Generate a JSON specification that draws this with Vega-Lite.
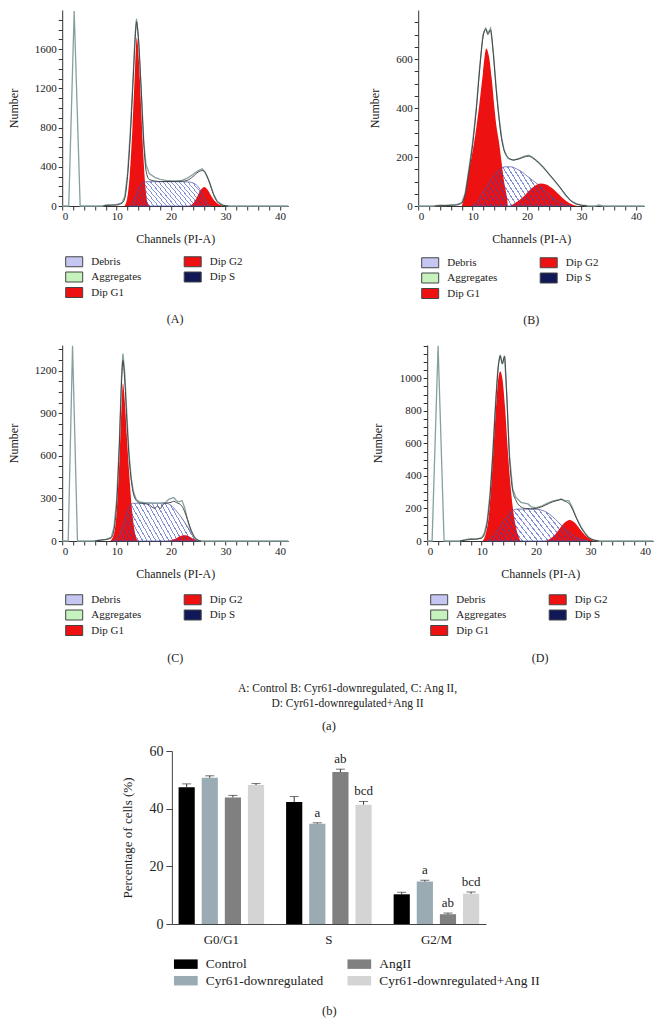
{
"$schema": "https://vega.github.io/schema/vega-lite/v6.json",
"background": "white",
"padding": {"left": 7, "top": 8, "right": 5, "bottom": 5},
"config": {
 "font": "Liberation Serif",
 "view": {"stroke": null},
 "axis": {"labelFont": "Liberation Serif", "titleFont": "Liberation Serif", "labelFontSize": 11, "titleFontSize": 12, "titleFontWeight": "normal", "labelColor": "#222", "titleColor": "#222", "domainColor": "#333", "tickColor": "#333", "tickSize": 4, "labelPadding": 2, "grid": false, "labelOverlap": false},
 "legend": {"labelFont": "Liberation Serif", "labelColor": "#222", "labelLimit": 400},
 "title": {"font": "Liberation Serif", "fontWeight": "normal", "fontSize": 12, "color": "#222", "subtitleFont": "Liberation Serif"},
 "area": {"color": {"gradient": "linear", "x1": -0.1, "y1": 0.65, "x2": 1.1, "y2": 0.35, "stops": [
  {"offset":0,"color":"rgba(50,70,190,0.6)"},{"offset":0.01,"color":"rgba(50,70,190,0.6)"},{"offset":0.01,"color":"rgba(255,255,255,0)"},{"offset":0.04,"color":"rgba(255,255,255,0)"},
  {"offset":0.04,"color":"rgba(50,70,190,0.6)"},{"offset":0.05,"color":"rgba(50,70,190,0.6)"},{"offset":0.05,"color":"rgba(255,255,255,0)"},{"offset":0.08,"color":"rgba(255,255,255,0)"},
  {"offset":0.08,"color":"rgba(50,70,190,0.6)"},{"offset":0.09,"color":"rgba(50,70,190,0.6)"},{"offset":0.09,"color":"rgba(255,255,255,0)"},{"offset":0.12,"color":"rgba(255,255,255,0)"},
  {"offset":0.12,"color":"rgba(50,70,190,0.6)"},{"offset":0.13,"color":"rgba(50,70,190,0.6)"},{"offset":0.13,"color":"rgba(255,255,255,0)"},{"offset":0.16,"color":"rgba(255,255,255,0)"},
  {"offset":0.16,"color":"rgba(50,70,190,0.6)"},{"offset":0.17,"color":"rgba(50,70,190,0.6)"},{"offset":0.17,"color":"rgba(255,255,255,0)"},{"offset":0.2,"color":"rgba(255,255,255,0)"},
  {"offset":0.2,"color":"rgba(50,70,190,0.6)"},{"offset":0.21,"color":"rgba(50,70,190,0.6)"},{"offset":0.21,"color":"rgba(255,255,255,0)"},{"offset":0.24,"color":"rgba(255,255,255,0)"},
  {"offset":0.24,"color":"rgba(50,70,190,0.6)"},{"offset":0.25,"color":"rgba(50,70,190,0.6)"},{"offset":0.25,"color":"rgba(255,255,255,0)"},{"offset":0.28,"color":"rgba(255,255,255,0)"},
  {"offset":0.28,"color":"rgba(50,70,190,0.6)"},{"offset":0.29,"color":"rgba(50,70,190,0.6)"},{"offset":0.29,"color":"rgba(255,255,255,0)"},{"offset":0.32,"color":"rgba(255,255,255,0)"},
  {"offset":0.32,"color":"rgba(50,70,190,0.6)"},{"offset":0.33,"color":"rgba(50,70,190,0.6)"},{"offset":0.33,"color":"rgba(255,255,255,0)"},{"offset":0.36,"color":"rgba(255,255,255,0)"},
  {"offset":0.36,"color":"rgba(50,70,190,0.6)"},{"offset":0.37,"color":"rgba(50,70,190,0.6)"},{"offset":0.37,"color":"rgba(255,255,255,0)"},{"offset":0.4,"color":"rgba(255,255,255,0)"},
  {"offset":0.4,"color":"rgba(50,70,190,0.6)"},{"offset":0.41,"color":"rgba(50,70,190,0.6)"},{"offset":0.41,"color":"rgba(255,255,255,0)"},{"offset":0.44,"color":"rgba(255,255,255,0)"},
  {"offset":0.44,"color":"rgba(50,70,190,0.6)"},{"offset":0.45,"color":"rgba(50,70,190,0.6)"},{"offset":0.45,"color":"rgba(255,255,255,0)"},{"offset":0.48,"color":"rgba(255,255,255,0)"},
  {"offset":0.48,"color":"rgba(50,70,190,0.6)"},{"offset":0.49,"color":"rgba(50,70,190,0.6)"},{"offset":0.49,"color":"rgba(255,255,255,0)"},{"offset":0.52,"color":"rgba(255,255,255,0)"},
  {"offset":0.52,"color":"rgba(50,70,190,0.6)"},{"offset":0.53,"color":"rgba(50,70,190,0.6)"},{"offset":0.53,"color":"rgba(255,255,255,0)"},{"offset":0.56,"color":"rgba(255,255,255,0)"},
  {"offset":0.56,"color":"rgba(50,70,190,0.6)"},{"offset":0.57,"color":"rgba(50,70,190,0.6)"},{"offset":0.57,"color":"rgba(255,255,255,0)"},{"offset":0.6,"color":"rgba(255,255,255,0)"},
  {"offset":0.6,"color":"rgba(50,70,190,0.6)"},{"offset":0.61,"color":"rgba(50,70,190,0.6)"},{"offset":0.61,"color":"rgba(255,255,255,0)"},{"offset":0.64,"color":"rgba(255,255,255,0)"},
  {"offset":0.64,"color":"rgba(50,70,190,0.6)"},{"offset":0.65,"color":"rgba(50,70,190,0.6)"},{"offset":0.65,"color":"rgba(255,255,255,0)"},{"offset":0.68,"color":"rgba(255,255,255,0)"},
  {"offset":0.68,"color":"rgba(50,70,190,0.6)"},{"offset":0.69,"color":"rgba(50,70,190,0.6)"},{"offset":0.69,"color":"rgba(255,255,255,0)"},{"offset":0.72,"color":"rgba(255,255,255,0)"},
  {"offset":0.72,"color":"rgba(50,70,190,0.6)"},{"offset":0.73,"color":"rgba(50,70,190,0.6)"},{"offset":0.73,"color":"rgba(255,255,255,0)"},{"offset":0.76,"color":"rgba(255,255,255,0)"},
  {"offset":0.76,"color":"rgba(50,70,190,0.6)"},{"offset":0.77,"color":"rgba(50,70,190,0.6)"},{"offset":0.77,"color":"rgba(255,255,255,0)"},{"offset":0.8,"color":"rgba(255,255,255,0)"},
  {"offset":0.8,"color":"rgba(50,70,190,0.6)"},{"offset":0.81,"color":"rgba(50,70,190,0.6)"},{"offset":0.81,"color":"rgba(255,255,255,0)"},{"offset":0.84,"color":"rgba(255,255,255,0)"},
  {"offset":0.84,"color":"rgba(50,70,190,0.6)"},{"offset":0.85,"color":"rgba(50,70,190,0.6)"},{"offset":0.85,"color":"rgba(255,255,255,0)"},{"offset":0.88,"color":"rgba(255,255,255,0)"},
  {"offset":0.88,"color":"rgba(50,70,190,0.6)"},{"offset":0.89,"color":"rgba(50,70,190,0.6)"},{"offset":0.89,"color":"rgba(255,255,255,0)"},{"offset":0.92,"color":"rgba(255,255,255,0)"},
  {"offset":0.92,"color":"rgba(50,70,190,0.6)"},{"offset":0.93,"color":"rgba(50,70,190,0.6)"},{"offset":0.93,"color":"rgba(255,255,255,0)"},{"offset":0.96,"color":"rgba(255,255,255,0)"},
  {"offset":0.96,"color":"rgba(50,70,190,0.6)"},{"offset":0.97,"color":"rgba(50,70,190,0.6)"},{"offset":0.97,"color":"rgba(255,255,255,0)"},{"offset":1,"color":"rgba(255,255,255,0)"}
 ]}}
},
"datasets": {
 "A": [
  {"s":"Dip G1","x":11.4,"y":0},{"s":"Dip G1","x":11.9,"y":70},{"s":"Dip G1","x":12.4,"y":320},{"s":"Dip G1","x":12.9,"y":800},{"s":"Dip G1","x":13.3,"y":1300},{"s":"Dip G1","x":13.7,"y":1720},{"s":"Dip G1","x":14.1,"y":1480},{"s":"Dip G1","x":14.5,"y":1000},{"s":"Dip G1","x":14.9,"y":520},{"s":"Dip G1","x":15.3,"y":180},{"s":"Dip G1","x":15.7,"y":25},{"s":"Dip G1","x":16.1,"y":0},
  {"s":"Dip G2","x":23.3,"y":0},{"s":"Dip G2","x":24,"y":25},{"s":"Dip G2","x":24.7,"y":85},{"s":"Dip G2","x":25.4,"y":160},{"s":"Dip G2","x":26.1,"y":194},{"s":"Dip G2","x":26.7,"y":165},{"s":"Dip G2","x":27.4,"y":100},{"s":"Dip G2","x":28.1,"y":45},{"s":"Dip G2","x":28.8,"y":15},{"s":"Dip G2","x":29.8,"y":0},
  {"s":"Dip S","x":12.4,"y":0},{"s":"Dip S","x":13,"y":40},{"s":"Dip S","x":13.5,"y":105},{"s":"Dip S","x":14,"y":175},{"s":"Dip S","x":14.5,"y":222},{"s":"Dip S","x":15,"y":242},{"s":"Dip S","x":15.5,"y":248},{"s":"Dip S","x":17,"y":248},{"s":"Dip S","x":19,"y":248},{"s":"Dip S","x":21,"y":248},{"s":"Dip S","x":23,"y":246},{"s":"Dip S","x":24,"y":236},{"s":"Dip S","x":24.7,"y":212},{"s":"Dip S","x":25.3,"y":170},{"s":"Dip S","x":25.8,"y":115},{"s":"Dip S","x":26.3,"y":58},{"s":"Dip S","x":26.8,"y":18},{"s":"Dip S","x":27.3,"y":0},
  {"s":"fit","x":7.5,"y":0},{"s":"fit","x":8,"y":5},{"s":"fit","x":9,"y":8},{"s":"fit","x":10,"y":10},{"s":"fit","x":11,"y":30},{"s":"fit","x":11.5,"y":80},{"s":"fit","x":12,"y":300},{"s":"fit","x":12.5,"y":700},{"s":"fit","x":13,"y":1250},{"s":"fit","x":13.4,"y":1700},{"s":"fit","x":13.65,"y":1880},{"s":"fit","x":14,"y":1720},{"s":"fit","x":14.5,"y":1200},{"s":"fit","x":15,"y":620},{"s":"fit","x":15.4,"y":360},{"s":"fit","x":16,"y":270},{"s":"fit","x":17,"y":255},{"s":"fit","x":18,"y":250},{"s":"fit","x":20,"y":250},{"s":"fit","x":22,"y":252},{"s":"fit","x":23,"y":262},{"s":"fit","x":24,"y":300},{"s":"fit","x":25,"y":348},{"s":"fit","x":25.8,"y":362},{"s":"fit","x":26.3,"y":340},{"s":"fit","x":27,"y":245},{"s":"fit","x":27.8,"y":115},{"s":"fit","x":28.5,"y":42},{"s":"fit","x":29.5,"y":8},{"s":"fit","x":30.5,"y":0},
  {"s":"data","x":0,"y":0},{"s":"data","x":1.2,"y":0},{"s":"data","x":2.2,"y":1990},{"s":"data","x":3.3,"y":0},{"s":"data","x":7.5,"y":0},{"s":"data","x":8,"y":10},{"s":"data","x":9,"y":12},{"s":"data","x":10,"y":15},{"s":"data","x":11,"y":35},{"s":"data","x":11.5,"y":100},{"s":"data","x":12,"y":330},{"s":"data","x":12.5,"y":760},{"s":"data","x":13,"y":1300},{"s":"data","x":13.4,"y":1760},{"s":"data","x":13.65,"y":1910},{"s":"data","x":14,"y":1700},{"s":"data","x":14.5,"y":1180},{"s":"data","x":15,"y":640},{"s":"data","x":15.4,"y":420},{"s":"data","x":16,"y":330},{"s":"data","x":17,"y":292},{"s":"data","x":18,"y":272},{"s":"data","x":19,"y":262},{"s":"data","x":20,"y":258},{"s":"data","x":21,"y":256},{"s":"data","x":22,"y":262},{"s":"data","x":23,"y":285},{"s":"data","x":24,"y":322},{"s":"data","x":25,"y":362},{"s":"data","x":25.7,"y":380},{"s":"data","x":26.2,"y":345},{"s":"data","x":27,"y":252},{"s":"data","x":27.8,"y":122},{"s":"data","x":28.5,"y":46},{"s":"data","x":29.5,"y":10},{"s":"data","x":30.5,"y":0},{"s":"data","x":41.5,"y":0}
 ],
 "B": [
  {"s":"Dip G1","x":8,"y":0},{"s":"Dip G1","x":8.5,"y":40},{"s":"Dip G1","x":9.2,"y":130},{"s":"Dip G1","x":9.8,"y":200},{"s":"Dip G1","x":10.5,"y":293},{"s":"Dip G1","x":11.2,"y":410},{"s":"Dip G1","x":11.9,"y":545},{"s":"Dip G1","x":12.5,"y":643},{"s":"Dip G1","x":13,"y":610},{"s":"Dip G1","x":13.5,"y":520},{"s":"Dip G1","x":14,"y":400},{"s":"Dip G1","x":14.4,"y":320},{"s":"Dip G1","x":14.8,"y":266},{"s":"Dip G1","x":15.3,"y":180},{"s":"Dip G1","x":15.8,"y":95},{"s":"Dip G1","x":16.3,"y":35},{"s":"Dip G1","x":16.8,"y":0},
  {"s":"Dip S","x":10,"y":0},{"s":"Dip S","x":11,"y":20},{"s":"Dip S","x":12,"y":60},{"s":"Dip S","x":13,"y":95},{"s":"Dip S","x":14,"y":128},{"s":"Dip S","x":15,"y":150},{"s":"Dip S","x":16,"y":160},{"s":"Dip S","x":17,"y":160},{"s":"Dip S","x":18,"y":152},{"s":"Dip S","x":19,"y":140},{"s":"Dip S","x":20,"y":122},{"s":"Dip S","x":21,"y":105},{"s":"Dip S","x":22,"y":88},{"s":"Dip S","x":23,"y":68},{"s":"Dip S","x":24,"y":48},{"s":"Dip S","x":25,"y":28},{"s":"Dip S","x":26,"y":14},{"s":"Dip S","x":27,"y":5},{"s":"Dip S","x":28,"y":0},
  {"s":"Dip G2","x":16.5,"y":0},{"s":"Dip G2","x":17.5,"y":8},{"s":"Dip G2","x":18.5,"y":22},{"s":"Dip G2","x":19.5,"y":42},{"s":"Dip G2","x":20.5,"y":65},{"s":"Dip G2","x":21.5,"y":84},{"s":"Dip G2","x":22.5,"y":92},{"s":"Dip G2","x":23.5,"y":88},{"s":"Dip G2","x":24.5,"y":74},{"s":"Dip G2","x":25.5,"y":54},{"s":"Dip G2","x":26.5,"y":33},{"s":"Dip G2","x":27.5,"y":15},{"s":"Dip G2","x":28.5,"y":4},{"s":"Dip G2","x":29.2,"y":0},
  {"s":"fit","x":3,"y":0},{"s":"fit","x":5,"y":2},{"s":"fit","x":7,"y":4},{"s":"fit","x":8,"y":12},{"s":"fit","x":8.6,"y":45},{"s":"fit","x":9.3,"y":140},{"s":"fit","x":10,"y":250},{"s":"fit","x":10.7,"y":400},{"s":"fit","x":11.3,"y":560},{"s":"fit","x":11.9,"y":690},{"s":"fit","x":12.4,"y":722},{"s":"fit","x":12.8,"y":700},{"s":"fit","x":13.3,"y":718},{"s":"fit","x":13.8,"y":620},{"s":"fit","x":14.3,"y":480},{"s":"fit","x":14.8,"y":365},{"s":"fit","x":15.3,"y":275},{"s":"fit","x":15.8,"y":225},{"s":"fit","x":16.5,"y":198},{"s":"fit","x":17.5,"y":188},{"s":"fit","x":18.5,"y":192},{"s":"fit","x":19.5,"y":200},{"s":"fit","x":20.3,"y":203},{"s":"fit","x":21,"y":196},{"s":"fit","x":22,"y":178},{"s":"fit","x":23,"y":156},{"s":"fit","x":24,"y":130},{"s":"fit","x":25,"y":105},{"s":"fit","x":26,"y":78},{"s":"fit","x":27,"y":48},{"s":"fit","x":28,"y":22},{"s":"fit","x":29,"y":8},{"s":"fit","x":30,"y":3},{"s":"fit","x":31,"y":0},
  {"s":"data","x":0,"y":0},{"s":"data","x":3,"y":0},{"s":"data","x":4,"y":3},{"s":"data","x":5,"y":2},{"s":"data","x":6,"y":5},{"s":"data","x":7,"y":6},{"s":"data","x":8,"y":14},{"s":"data","x":8.6,"y":50},{"s":"data","x":9.3,"y":150},{"s":"data","x":10,"y":262},{"s":"data","x":10.7,"y":410},{"s":"data","x":11.3,"y":570},{"s":"data","x":11.9,"y":700},{"s":"data","x":12.4,"y":726},{"s":"data","x":12.8,"y":705},{"s":"data","x":13.3,"y":726},{"s":"data","x":13.8,"y":625},{"s":"data","x":14.3,"y":490},{"s":"data","x":14.8,"y":372},{"s":"data","x":15.3,"y":282},{"s":"data","x":15.8,"y":226},{"s":"data","x":16.5,"y":194},{"s":"data","x":17.5,"y":186},{"s":"data","x":18.5,"y":194},{"s":"data","x":19.5,"y":204},{"s":"data","x":20.3,"y":207},{"s":"data","x":21,"y":199},{"s":"data","x":22,"y":181},{"s":"data","x":23,"y":158},{"s":"data","x":24,"y":131},{"s":"data","x":25,"y":104},{"s":"data","x":26,"y":76},{"s":"data","x":27,"y":46},{"s":"data","x":28,"y":22},{"s":"data","x":29,"y":10},{"s":"data","x":30,"y":4},{"s":"data","x":31,"y":1},{"s":"data","x":32.5,"y":0},{"s":"data","x":33.2,"y":4},{"s":"data","x":34,"y":0},{"s":"data","x":41.5,"y":0}
 ],
 "C": [
  {"s":"Dip G1","x":8.8,"y":0},{"s":"Dip G1","x":9.5,"y":50},{"s":"Dip G1","x":10,"y":200},{"s":"Dip G1","x":10.5,"y":560},{"s":"Dip G1","x":10.9,"y":950},{"s":"Dip G1","x":11.15,"y":1110},{"s":"Dip G1","x":11.5,"y":980},{"s":"Dip G1","x":11.9,"y":720},{"s":"Dip G1","x":12.3,"y":480},{"s":"Dip G1","x":12.7,"y":270},{"s":"Dip G1","x":13.1,"y":120},{"s":"Dip G1","x":13.5,"y":35},{"s":"Dip G1","x":14,"y":0},
  {"s":"Dip S","x":9.3,"y":0},{"s":"Dip S","x":10,"y":15},{"s":"Dip S","x":10.5,"y":40},{"s":"Dip S","x":11,"y":90},{"s":"Dip S","x":11.5,"y":150},{"s":"Dip S","x":12,"y":210},{"s":"Dip S","x":12.5,"y":252},{"s":"Dip S","x":13,"y":265},{"s":"Dip S","x":14,"y":266},{"s":"Dip S","x":16,"y":266},{"s":"Dip S","x":18,"y":266},{"s":"Dip S","x":19.2,"y":265},{"s":"Dip S","x":20,"y":250},{"s":"Dip S","x":21,"y":210},{"s":"Dip S","x":22,"y":160},{"s":"Dip S","x":23,"y":100},{"s":"Dip S","x":24,"y":38},{"s":"Dip S","x":24.5,"y":10},{"s":"Dip S","x":25,"y":0},
  {"s":"Dip G2","x":19,"y":0},{"s":"Dip G2","x":20,"y":6},{"s":"Dip G2","x":21,"y":20},{"s":"Dip G2","x":22,"y":38},{"s":"Dip G2","x":22.7,"y":40},{"s":"Dip G2","x":23.5,"y":28},{"s":"Dip G2","x":24.3,"y":10},{"s":"Dip G2","x":25,"y":0},
  {"s":"fit","x":6,"y":0},{"s":"fit","x":7,"y":5},{"s":"fit","x":8,"y":10},{"s":"fit","x":9,"y":22},{"s":"fit","x":9.5,"y":75},{"s":"fit","x":10,"y":260},{"s":"fit","x":10.5,"y":680},{"s":"fit","x":10.9,"y":1120},{"s":"fit","x":11.15,"y":1270},{"s":"fit","x":11.5,"y":1120},{"s":"fit","x":11.9,"y":830},{"s":"fit","x":12.3,"y":580},{"s":"fit","x":12.7,"y":420},{"s":"fit","x":13.1,"y":330},{"s":"fit","x":13.6,"y":285},{"s":"fit","x":14.2,"y":268},{"s":"fit","x":15,"y":264},{"s":"fit","x":16,"y":255},{"s":"fit","x":16.5,"y":238},{"s":"fit","x":17,"y":232},{"s":"fit","x":17.5,"y":246},{"s":"fit","x":18,"y":228},{"s":"fit","x":18.5,"y":258},{"s":"fit","x":19,"y":266},{"s":"fit","x":20,"y":272},{"s":"fit","x":20.5,"y":280},{"s":"fit","x":21,"y":270},{"s":"fit","x":21.5,"y":262},{"s":"fit","x":22,"y":245},{"s":"fit","x":22.5,"y":205},{"s":"fit","x":23,"y":152},{"s":"fit","x":23.5,"y":96},{"s":"fit","x":24,"y":50},{"s":"fit","x":24.5,"y":18},{"s":"fit","x":25,"y":5},{"s":"fit","x":25.5,"y":0},
  {"s":"data","x":0,"y":0},{"s":"data","x":1.1,"y":0},{"s":"data","x":1.9,"y":1375},{"s":"data","x":2.8,"y":0},{"s":"data","x":6,"y":0},{"s":"data","x":7,"y":8},{"s":"data","x":8,"y":12},{"s":"data","x":9,"y":25},{"s":"data","x":9.5,"y":95},{"s":"data","x":10,"y":290},{"s":"data","x":10.5,"y":700},{"s":"data","x":10.9,"y":1160},{"s":"data","x":11.15,"y":1319},{"s":"data","x":11.5,"y":1180},{"s":"data","x":11.9,"y":870},{"s":"data","x":12.3,"y":600},{"s":"data","x":12.7,"y":440},{"s":"data","x":13.1,"y":345},{"s":"data","x":13.6,"y":292},{"s":"data","x":14.2,"y":276},{"s":"data","x":15,"y":270},{"s":"data","x":16,"y":268},{"s":"data","x":17,"y":266},{"s":"data","x":18,"y":266},{"s":"data","x":19,"y":272},{"s":"data","x":19.5,"y":292},{"s":"data","x":20,"y":300},{"s":"data","x":20.5,"y":306},{"s":"data","x":21,"y":282},{"s":"data","x":21.5,"y":276},{"s":"data","x":22,"y":285},{"s":"data","x":22.5,"y":232},{"s":"data","x":23,"y":152},{"s":"data","x":23.5,"y":82},{"s":"data","x":24,"y":36},{"s":"data","x":24.5,"y":15},{"s":"data","x":25,"y":5},{"s":"data","x":25.5,"y":0},{"s":"data","x":41.5,"y":0}
 ],
 "D": [
  {"s":"Dip G1","x":10.2,"y":0},{"s":"Dip G1","x":10.8,"y":50},{"s":"Dip G1","x":11.3,"y":150},{"s":"Dip G1","x":11.9,"y":410},{"s":"Dip G1","x":12.5,"y":750},{"s":"Dip G1","x":13,"y":980},{"s":"Dip G1","x":13.4,"y":1043},{"s":"Dip G1","x":13.8,"y":1000},{"s":"Dip G1","x":14.3,"y":820},{"s":"Dip G1","x":14.8,"y":560},{"s":"Dip G1","x":15.2,"y":380},{"s":"Dip G1","x":15.7,"y":210},{"s":"Dip G1","x":16.2,"y":100},{"s":"Dip G1","x":16.7,"y":35},{"s":"Dip G1","x":17.2,"y":0},
  {"s":"Dip S","x":11,"y":0},{"s":"Dip S","x":12,"y":25},{"s":"Dip S","x":13,"y":70},{"s":"Dip S","x":14,"y":120},{"s":"Dip S","x":15,"y":165},{"s":"Dip S","x":15.8,"y":190},{"s":"Dip S","x":16.5,"y":196},{"s":"Dip S","x":18,"y":196},{"s":"Dip S","x":20,"y":195},{"s":"Dip S","x":21,"y":190},{"s":"Dip S","x":22,"y":175},{"s":"Dip S","x":23,"y":150},{"s":"Dip S","x":24,"y":118},{"s":"Dip S","x":25,"y":85},{"s":"Dip S","x":26,"y":55},{"s":"Dip S","x":27,"y":30},{"s":"Dip S","x":28,"y":12},{"s":"Dip S","x":29,"y":3},{"s":"Dip S","x":29.5,"y":0},
  {"s":"Dip G2","x":21.5,"y":0},{"s":"Dip G2","x":22.5,"y":12},{"s":"Dip G2","x":23.5,"y":40},{"s":"Dip G2","x":24.5,"y":85},{"s":"Dip G2","x":25.5,"y":120},{"s":"Dip G2","x":26.2,"y":129},{"s":"Dip G2","x":27,"y":115},{"s":"Dip G2","x":28,"y":75},{"s":"Dip G2","x":29,"y":35},{"s":"Dip G2","x":30,"y":10},{"s":"Dip G2","x":30.8,"y":0},
  {"s":"fit","x":6,"y":0},{"s":"fit","x":7,"y":5},{"s":"fit","x":8,"y":10},{"s":"fit","x":9,"y":12},{"s":"fit","x":10,"y":18},{"s":"fit","x":10.5,"y":40},{"s":"fit","x":11,"y":110},{"s":"fit","x":11.5,"y":260},{"s":"fit","x":12,"y":500},{"s":"fit","x":12.5,"y":800},{"s":"fit","x":13,"y":1050},{"s":"fit","x":13.4,"y":1138},{"s":"fit","x":13.8,"y":1090},{"s":"fit","x":14.2,"y":1135},{"s":"fit","x":14.6,"y":900},{"s":"fit","x":15.1,"y":520},{"s":"fit","x":15.7,"y":310},{"s":"fit","x":16.3,"y":250},{"s":"fit","x":17,"y":215},{"s":"fit","x":18,"y":200},{"s":"fit","x":19,"y":198},{"s":"fit","x":20,"y":200},{"s":"fit","x":21,"y":210},{"s":"fit","x":22,"y":225},{"s":"fit","x":23,"y":240},{"s":"fit","x":24,"y":250},{"s":"fit","x":24.6,"y":255},{"s":"fit","x":25.2,"y":245},{"s":"fit","x":26,"y":232},{"s":"fit","x":26.6,"y":200},{"s":"fit","x":27.4,"y":140},{"s":"fit","x":28.2,"y":85},{"s":"fit","x":28.9,"y":50},{"s":"fit","x":29.6,"y":22},{"s":"fit","x":30.2,"y":10},{"s":"fit","x":31,"y":3},{"s":"fit","x":31.5,"y":0},
  {"s":"data","x":0,"y":0},{"s":"data","x":0.9,"y":0},{"s":"data","x":2,"y":1200},{"s":"data","x":3.1,"y":0},{"s":"data","x":6,"y":0},{"s":"data","x":7,"y":8},{"s":"data","x":8,"y":15},{"s":"data","x":9,"y":10},{"s":"data","x":10,"y":20},{"s":"data","x":10.5,"y":50},{"s":"data","x":11,"y":120},{"s":"data","x":11.5,"y":280},{"s":"data","x":12,"y":520},{"s":"data","x":12.5,"y":820},{"s":"data","x":13,"y":1070},{"s":"data","x":13.4,"y":1145},{"s":"data","x":13.8,"y":1088},{"s":"data","x":14.2,"y":1139},{"s":"data","x":14.6,"y":910},{"s":"data","x":15.1,"y":530},{"s":"data","x":15.7,"y":320},{"s":"data","x":16.3,"y":268},{"s":"data","x":17.2,"y":238},{"s":"data","x":18,"y":232},{"s":"data","x":18.5,"y":228},{"s":"data","x":19.1,"y":210},{"s":"data","x":20,"y":205},{"s":"data","x":21,"y":215},{"s":"data","x":22,"y":232},{"s":"data","x":23,"y":245},{"s":"data","x":24,"y":252},{"s":"data","x":24.6,"y":258},{"s":"data","x":25.2,"y":250},{"s":"data","x":26,"y":248},{"s":"data","x":26.6,"y":210},{"s":"data","x":27.4,"y":145},{"s":"data","x":28.2,"y":90},{"s":"data","x":28.9,"y":53},{"s":"data","x":29.6,"y":25},{"s":"data","x":30.2,"y":12},{"s":"data","x":31,"y":3},{"s":"data","x":31.5,"y":0},{"s":"data","x":41.5,"y":0}
 ],
 "bars": [
  {"phase":"G0/G1","group":"Control","v":47.4,"hi":48.6,"sig":""},
  {"phase":"G0/G1","group":"Cyr61-downregulated","v":50.7,"hi":51.4,"sig":""},
  {"phase":"G0/G1","group":"AngII","v":43.9,"hi":44.6,"sig":""},
  {"phase":"G0/G1","group":"Cyr61-downregulated+Ang II","v":48.2,"hi":48.7,"sig":""},
  {"phase":"S","group":"Control","v":42.3,"hi":44.2,"sig":""},
  {"phase":"S","group":"Cyr61-downregulated","v":34.8,"hi":35.1,"sig":"a"},
  {"phase":"S","group":"AngII","v":52.7,"hi":53.7,"sig":"ab"},
  {"phase":"S","group":"Cyr61-downregulated+Ang II","v":41.4,"hi":42.5,"sig":"bcd"},
  {"phase":"G2/M","group":"Control","v":10.3,"hi":11.0,"sig":""},
  {"phase":"G2/M","group":"Cyr61-downregulated","v":14.7,"hi":15.2,"sig":"a"},
  {"phase":"G2/M","group":"AngII","v":3.4,"hi":3.8,"sig":"ab"},
  {"phase":"G2/M","group":"Cyr61-downregulated+Ang II","v":10.5,"hi":11.1,"sig":"bcd"}
 ]
},
"center": true,
"spacing": 9,
"resolve": {"scale": {"color": "independent"}, "legend": {"color": "independent"}},
"vconcat": [
 {"spacing": 13,
  "resolve": {"scale": {"color": "independent"}, "legend": {"color": "independent"}},
  "vconcat": [
  {"spacing": 77,
   "resolve": {"scale": {"color": "independent"}, "legend": {"color": "independent"}},
   "hconcat": [
   {"width": 226, "height": 196, "data": {"name": "A"},
    "title": {"text": "(A)", "orient": "bottom", "anchor": "middle", "frame": "group", "offset": 14},
    "encoding": {
     "x": {"field": "x", "type": "quantitative", "scale": {"domain": [0, 41.5], "nice": false, "zero": false}, "axis": {"title": "Channels (PI-A)", "titlePadding": 12, "labelPadding": 0, "values": [0,2,4,6,8,10,12,14,16,18,20,22,24,26,28,30,32,34,36,38,40], "labelExpr": "datum.value % 10 === 0 ? datum.label : ''"}},
     "y": {"field": "y", "type": "quantitative", "scale": {"domain": [0, 2000], "nice": false}, "axis": {"title": "Number", "titlePadding": 14, "format": "d", "values": [0,100,200,300,400,500,600,700,800,900,1000,1100,1200,1300,1400,1500,1600,1700,1800,1900], "labelExpr": "datum.value % 400 === 0 ? datum.label : ''"}}
    },
    "layer": [
     {"transform": [{"filter": "datum.s === 'Dip G1' || datum.s === 'Dip G2'"}], "mark": {"type": "area", "interpolate": "monotone"},
      "encoding": {"color": {"field": "s", "type": "nominal", "scale": {"domain": ["Debris","Aggregates","Dip G1","Dip G2","Dip S"], "range": ["#c6c6f2","#c6f2be","#ee1111","#ee1111","#111858"]},
       "legend": {"orient": "none", "legendX": 6.5, "legendY": 246, "columns": 2, "title": null, "symbolType": "M-1.7,-1L1.7,-1L1.7,1L-1.7,1Z", "symbolSize": 100, "symbolStrokeColor": "#444", "symbolStrokeWidth": 1, "symbolOpacity": 1, "labelFontSize": 11, "labelOffset": 11.5, "columnPadding": 40.5, "rowPadding": 0.5, "padding": 0}}}},
     {"transform": [{"filter": "datum.s === 'Dip S'"}], "mark": {"type": "area", "interpolate": "monotone", "stroke": "#4a55a0", "strokeWidth": 0.7}, "encoding": {}},
     {"transform": [{"filter": "datum.s === 'data'"}], "mark": {"type": "line", "color": "#86a0a0", "strokeWidth": 1.3}, "encoding": {}},
     {"transform": [{"filter": "datum.s === 'fit'"}], "mark": {"type": "line", "interpolate": "monotone", "color": "#3a3a3a", "strokeWidth": 0.9}, "encoding": {}}
    ]},
   {"width": 226, "height": 196, "data": {"name": "B"},
    "title": {"text": "(B)", "orient": "bottom", "anchor": "middle", "frame": "group", "offset": 14},
    "encoding": {
     "x": {"field": "x", "type": "quantitative", "scale": {"domain": [0, 41.5], "nice": false, "zero": false}, "axis": {"title": "Channels (PI-A)", "titlePadding": 12, "labelPadding": 0, "values": [0,2,4,6,8,10,12,14,16,18,20,22,24,26,28,30,32,34,36,38,40], "labelExpr": "datum.value % 10 === 0 ? datum.label : ''"}},
     "y": {"field": "y", "type": "quantitative", "scale": {"domain": [0, 800], "nice": false}, "axis": {"title": "Number", "titlePadding": 14, "format": "d", "values": [0,50,100,150,200,250,300,350,400,450,500,550,600,650,700,750], "labelExpr": "datum.value % 200 === 0 ? datum.label : ''"}}
    },
    "layer": [
     {"transform": [{"filter": "datum.s === 'Dip G1' || datum.s === 'Dip G2'"}], "mark": {"type": "area", "interpolate": "monotone"},
      "encoding": {"color": {"field": "s", "type": "nominal", "scale": {"domain": ["Debris","Aggregates","Dip G1","Dip G2","Dip S"], "range": ["#c6c6f2","#c6f2be","#ee1111","#ee1111","#111858"]},
       "legend": {"orient": "none", "legendX": 6.5, "legendY": 247, "columns": 2, "title": null, "symbolType": "M-1.7,-1L1.7,-1L1.7,1L-1.7,1Z", "symbolSize": 100, "symbolStrokeColor": "#444", "symbolStrokeWidth": 1, "symbolOpacity": 1, "labelFontSize": 11, "labelOffset": 11.5, "columnPadding": 40.5, "rowPadding": 0.5, "padding": 0}}}},
     {"transform": [{"filter": "datum.s === 'Dip S'"}], "mark": {"type": "area", "interpolate": "monotone", "stroke": "#4a55a0", "strokeWidth": 0.7}, "encoding": {}},
     {"transform": [{"filter": "datum.s === 'data'"}], "mark": {"type": "line", "color": "#86a0a0", "strokeWidth": 1.3}, "encoding": {}},
     {"transform": [{"filter": "datum.s === 'fit'"}], "mark": {"type": "line", "interpolate": "monotone", "color": "#3a3a3a", "strokeWidth": 0.9}, "encoding": {}}
    ]}
  ]},
  {"spacing": 80,
   "resolve": {"scale": {"color": "independent"}, "legend": {"color": "independent"}},
   "title": {"text": ["A: Control B: Cyr61-downregulated, C: Ang II,", "D: Cyr61-downregulated+Ang II"], "orient": "bottom", "anchor": "middle", "offset": 19, "lineHeight": 15, "dx": 16, "fontSize": 11.5},
   "hconcat": [
   {"width": 226, "height": 196, "data": {"name": "C"},
    "title": {"text": "(C)", "orient": "bottom", "anchor": "middle", "frame": "group", "offset": 15},
    "encoding": {
     "x": {"field": "x", "type": "quantitative", "scale": {"domain": [0, 41.5], "nice": false, "zero": false}, "axis": {"title": "Channels (PI-A)", "titlePadding": 12, "labelPadding": 0, "values": [0,2,4,6,8,10,12,14,16,18,20,22,24,26,28,30,32,34,36,38,40], "labelExpr": "datum.value % 10 === 0 ? datum.label : ''"}},
     "y": {"field": "y", "type": "quantitative", "scale": {"domain": [0, 1380], "nice": false}, "axis": {"title": "Number", "titlePadding": 14, "format": "d", "values": [0,75,150,225,300,375,450,525,600,675,750,825,900,975,1050,1125,1200,1275,1350], "labelExpr": "datum.value % 300 === 0 ? datum.label : ''"}}
    },
    "layer": [
     {"transform": [{"filter": "datum.s === 'Dip G1' || datum.s === 'Dip G2'"}], "mark": {"type": "area", "interpolate": "monotone"},
      "encoding": {"color": {"field": "s", "type": "nominal", "scale": {"domain": ["Debris","Aggregates","Dip G1","Dip G2","Dip S"], "range": ["#c6c6f2","#c6f2be","#ee1111","#ee1111","#111858"]},
       "legend": {"orient": "none", "legendX": 6.5, "legendY": 249, "columns": 2, "title": null, "symbolType": "M-1.7,-1L1.7,-1L1.7,1L-1.7,1Z", "symbolSize": 100, "symbolStrokeColor": "#444", "symbolStrokeWidth": 1, "symbolOpacity": 1, "labelFontSize": 11, "labelOffset": 11.5, "columnPadding": 40.5, "rowPadding": 0.5, "padding": 0}}}},
     {"transform": [{"filter": "datum.s === 'Dip S'"}], "mark": {"type": "area", "interpolate": "monotone", "stroke": "#4a55a0", "strokeWidth": 0.7}, "encoding": {}},
     {"transform": [{"filter": "datum.s === 'data'"}], "mark": {"type": "line", "color": "#86a0a0", "strokeWidth": 1.3}, "encoding": {}},
     {"transform": [{"filter": "datum.s === 'fit'"}], "mark": {"type": "line", "interpolate": "monotone", "color": "#3a3a3a", "strokeWidth": 0.9}, "encoding": {}}
    ]},
   {"width": 226, "height": 196, "data": {"name": "D"},
    "title": {"text": "(D)", "orient": "bottom", "anchor": "middle", "frame": "group", "offset": 15},
    "encoding": {
     "x": {"field": "x", "type": "quantitative", "scale": {"domain": [0, 41.5], "nice": false, "zero": false}, "axis": {"title": "Channels (PI-A)", "titlePadding": 12, "labelPadding": 0, "values": [0,2,4,6,8,10,12,14,16,18,20,22,24,26,28,30,32,34,36,38,40], "labelExpr": "datum.value % 10 === 0 ? datum.label : ''"}},
     "y": {"field": "y", "type": "quantitative", "scale": {"domain": [0, 1205], "nice": false}, "axis": {"title": "Number", "titlePadding": 15, "format": "d", "values": [0,50,100,150,200,250,300,350,400,450,500,550,600,650,700,750,800,850,900,950,1000,1050,1100,1150,1200], "labelExpr": "datum.value % 200 === 0 && datum.value <= 1000 ? datum.label : ''"}}
    },
    "layer": [
     {"transform": [{"filter": "datum.s === 'Dip G1' || datum.s === 'Dip G2'"}], "mark": {"type": "area", "interpolate": "monotone"},
      "encoding": {"color": {"field": "s", "type": "nominal", "scale": {"domain": ["Debris","Aggregates","Dip G1","Dip G2","Dip S"], "range": ["#c6c6f2","#c6f2be","#ee1111","#ee1111","#111858"]},
       "legend": {"orient": "none", "legendX": 6.5, "legendY": 249, "columns": 2, "title": null, "symbolType": "M-1.7,-1L1.7,-1L1.7,1L-1.7,1Z", "symbolSize": 100, "symbolStrokeColor": "#444", "symbolStrokeWidth": 1, "symbolOpacity": 1, "labelFontSize": 11, "labelOffset": 11.5, "columnPadding": 40.5, "rowPadding": 0.5, "padding": 0}}}},
     {"transform": [{"filter": "datum.s === 'Dip S'"}], "mark": {"type": "area", "interpolate": "monotone", "stroke": "#4a55a0", "strokeWidth": 0.7}, "encoding": {}},
     {"transform": [{"filter": "datum.s === 'data'"}], "mark": {"type": "line", "color": "#86a0a0", "strokeWidth": 1.3}, "encoding": {}},
     {"transform": [{"filter": "datum.s === 'fit'"}], "mark": {"type": "line", "interpolate": "monotone", "color": "#3a3a3a", "strokeWidth": 0.9}, "encoding": {}}
    ]}
  ]}
 ]},
 {"width": 314, "height": 173, "data": {"name": "bars"},
  "title": {"text": "(a)", "orient": "top", "anchor": "middle", "frame": "group", "offset": 12, "fontSize": 12.5},
  "encoding": {
   "x": {"field": "phase", "type": "nominal", "sort": ["G0/G1","S","G2/M"], "scale": {"paddingInner": 0.14, "paddingOuter": 0.03},
    "axis": {"title": "(b)", "titleFontSize": 12.5, "titlePadding": 58, "labelAngle": 0, "ticks": false, "labelFontSize": 13, "labelPadding": 9, "domainColor": "#444"}},
   "xOffset": {"field": "group", "type": "nominal", "sort": ["Control","Cyr61-downregulated","AngII","Cyr61-downregulated+Ang II"], "scale": {"paddingInner": 0.3, "paddingOuter": 0.15}}
  },
  "layer": [
   {"mark": {"type": "bar"},
    "encoding": {
     "y": {"field": "v", "type": "quantitative", "scale": {"domain": [0, 60], "nice": false},
      "axis": {"title": "Percentage of cells (%)", "values": [0,20,40,60], "tickSize": 6, "labelPadding": 3, "labelFontSize": 14, "titleFontSize": 13, "titlePadding": 14, "domainColor": "#444", "tickColor": "#444"}},
     "color": {"field": "group", "type": "nominal", "scale": {"domain": ["Control","Cyr61-downregulated","AngII","Cyr61-downregulated+Ang II"], "range": ["#000000","#9aabb3","#808080","#d4d4d4"]},
      "legend": {"orient": "none", "legendX": 1.25, "legendY": 200, "columns": 2, "title": null, "symbolType": "M-2.5,-1L2.5,-1L2.5,1L-2.5,1Z", "symbolSize": 90, "symbolStrokeWidth": 0, "symbolOpacity": 1, "labelFontSize": 13.4, "labelLimit": 400, "labelOffset": 13.25, "columnPadding": 22.5, "rowPadding": 2, "padding": 6}}
    }},
   {"mark": {"type": "rule", "color": "#333", "strokeWidth": 1}, "encoding": {"y": {"field": "v", "type": "quantitative"}, "y2": {"field": "hi"}}},
   {"mark": {"type": "tick", "color": "#333", "thickness": 1, "size": 9}, "encoding": {"y": {"field": "hi", "type": "quantitative"}}},
   {"transform": [{"filter": "datum.sig !== ''"}], "mark": {"type": "text", "baseline": "bottom", "dy": -3, "fontSize": 13, "color": "#222"}, "encoding": {"y": {"field": "hi", "type": "quantitative"}, "text": {"field": "sig"}}}
  ]}
]
}
